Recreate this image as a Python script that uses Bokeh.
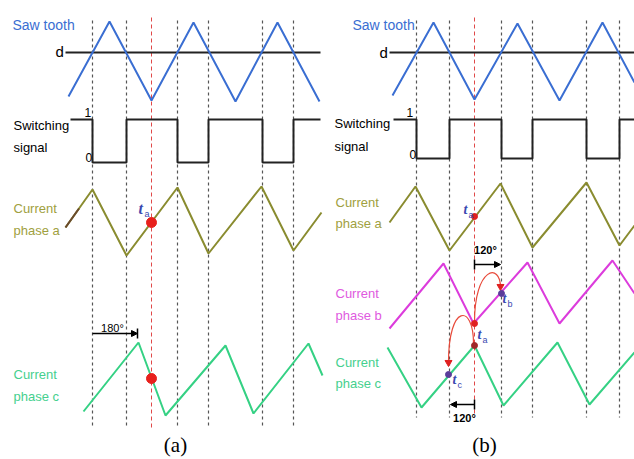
import math
from bokeh.plotting import figure
from bokeh.models import Range1d, Arrow, NormalHead
from bokeh.core.properties import value
from bokeh.embed import file_html
from bokeh.resources import INLINE

# ---------------- data (time axis in px-like units, levels in px-like units) -------------
# Panel (a)
saw_a_x = [68, 109, 151, 193, 235, 277, 319]
saw_a_y = [96, 21, 100, 22, 101, 22, 101]
d_a_x = [65, 320]
d_level = 52
sw_a_edges = [92, 126, 177, 208, 262, 293]
sw_a_span = [70, 320]
sw_a_levels = [119, 162]          # level "1", level "0"
ia_a_x = [65, 92, 126, 177, 208, 261, 293, 321]
ia_a_y = [227, 189, 255, 187, 253, 186, 250, 212]
ic_a_x = [83, 138, 165, 225, 253, 308, 322]
ic_a_y = [411, 342, 415, 345, 413, 343, 375]
vlines_a = [92, 126, 177, 208, 262, 293]
red_a = 151
vspan_a = [20, 428]
dots_a_x = [151, 151]
dots_a_y = [222, 378]

# Panel (b)
saw_b_x = [392, 433, 474, 517, 559, 602, 634]
saw_b_y = [95, 22, 99, 23, 100, 22, 82]
d_b_x = [389, 634]
sw_b_edges = [416, 449, 501, 532, 586, 619]
sw_b_span = [393, 634]
sw_b_levels = [119, 158]
ia_b_x = [389, 415, 449, 500, 532, 586, 619, 634]
ia_b_y = [222, 186, 250, 183, 247, 182, 245, 225]
ib_b_x = [389, 443, 473, 527, 559, 612, 634]
ib_b_y = [328, 263, 323, 262, 323, 260, 293]
ic_b_x = [387, 421, 474, 503, 557, 589, 634]
ic_b_y = [347, 407, 345, 405, 342, 404, 352]
vlines_b = [416, 449, 501, 532, 586, 619]
red_b = 474
vspan_b = [20, 417]
dots_b_x = [474, 474, 474, 501, 448]
dots_b_y = [216, 323, 345, 293, 374]
dots_b_c = ["#e02020", "#e02020", "#a02828", "#5a3c9a", "#5a3c9a"]

# phase-shift annotations
deg_labels = ["180°", "120°", "120°"]

# ---------------- styles -------------
BLUE = "#3a6ed2"
OLIVE = "#8a8c30"
OLIVE_T = "#a0a040"
GREEN = "#35d184"
GREEN_T = "#45d08e"
MAG = "#dc3cdc"
MAG_T = "#e05ae0"
SANS = "'Liberation Sans', Arial, sans-serif"
SERIF = "'Liberation Serif', 'DejaVu Serif', serif"

p = figure(width=634, height=459, x_range=Range1d(0, 634), y_range=Range1d(459, 0),
           output_backend="svg", toolbar_location=None, min_border=0)
p.axis.visible = False
p.grid.visible = False
p.outline_line_color = None
p.background_fill_color = "white"
p.border_fill_color = "white"


def label(x, y, txt, color="black", size="13px", font=SANS, style="normal", align="left"):
    p.text(x=[x], y=[y], text=[txt], text_color=color, text_font_size=size,
           text_font=value(font), text_font_style=style, text_align=align,
           text_baseline="middle")


def square(span, edges, levels):
    hi, lo = levels
    xs, ys = [span[0]], [hi]
    lvl = hi
    for e in edges:
        nxt = lo if lvl == hi else hi
        xs += [e, e]
        ys += [lvl, nxt]
        lvl = nxt
    xs.append(span[1])
    ys.append(lvl)
    return xs, ys


# vertical dashed guides
for vl, red, span in ((vlines_a, red_a, vspan_a), (vlines_b, red_b, vspan_b)):
    p.segment(x0=vl, y0=[span[0]] * len(vl), x1=vl, y1=[span[1]] * len(vl),
              line_color="#555555", line_width=1.2, line_dash="3 3")
    p.segment(x0=[red], y0=[span[0] - 3], x1=[red], y1=[span[1]],
              line_color="#e04848", line_width=1.0, line_dash="4 3")

# d lines
for dx in (d_a_x, d_b_x):
    p.line(dx, [d_level, d_level], line_color="#222222", line_width=2.2)

# saw tooth
p.line(saw_a_x, saw_a_y, line_color=BLUE, line_width=2)
p.line(saw_b_x, saw_b_y, line_color=BLUE, line_width=2)

# switching signals
for span, edges, lv in ((sw_a_span, sw_a_edges, sw_a_levels), (sw_b_span, sw_b_edges, sw_b_levels)):
    xs, ys = square(span, edges, lv)
    p.line(xs, ys, line_color="#222222", line_width=2)

# currents
p.line(ia_a_x, ia_a_y, line_color=OLIVE, line_width=2)
mx = (ia_a_x[0] + ia_a_x[1]) / 2
my = (ia_a_y[0] + ia_a_y[1]) / 2
p.line([ia_a_x[0], mx], [ia_a_y[0], my], line_color="#6a4a2c", line_width=2)
p.line(ic_a_x, ic_a_y, line_color=GREEN, line_width=2)
p.line(ia_b_x, ia_b_y, line_color=OLIVE, line_width=2)
p.line(ib_b_x, ib_b_y, line_color=MAG, line_width=2)
p.line(ic_b_x, ic_b_y, line_color=GREEN, line_width=2)

# curved arrows (b)
p.bezier(x0=[474, 473], y0=[322, 343], x1=[500, 448], y1=[287, 362],
         cx0=[474, 473], cy0=[266, 303], cx1=[500, 448], cy1=[262, 303],
         line_color="#e84a3a", line_width=1.2)
p.scatter(x=[500, 448], y=[286, 362], marker="inverted_triangle", size=7,
          fill_color="#e02020", line_color="#e02020")

# dots
p.scatter(dots_a_x, dots_a_y, size=10, fill_color="#e8201c", line_color="#e8201c")
p.scatter(dots_b_x, dots_b_y, size=6, fill_color=dots_b_c, line_color=dots_b_c)

# degree arrows
head = dict(size=6, fill_color="black", line_color="black")
p.add_layout(Arrow(end=NormalHead(**head), x_start=92, y_start=333, x_end=137, y_end=333,
                   line_color="black", line_width=1.5))
p.segment(x0=[137, 474, 474], y0=[328, 259, 399], x1=[137, 474, 474], y1=[338, 269, 409],
          line_color="black", line_width=1.5)
p.add_layout(Arrow(end=NormalHead(**head), x_start=474, y_start=264, x_end=500, y_end=264,
                   line_color="black", line_width=1.5))
p.add_layout(Arrow(end=NormalHead(**head), x_start=474, y_start=404, x_end=450, y_end=404,
                   line_color="black", line_width=1.5))
label(112, 327, deg_labels[0], size="11px", align="center")
label(485, 249, deg_labels[1], size="11px", style="bold", align="center")
label(464, 417, deg_labels[2], size="11px", style="bold", align="center")

# t labels
TBLUE = "#3a48b0"
for (tx, ty, sub, big) in ((138, 208, "a", True), (463, 209, "a", False), (477, 334, "a", False),
                           (502, 298, "b", False), (452, 379, "c", False)):
    label(tx, ty, "t", color=TBLUE, size="16px" if big else "14px", font=SERIF, style="bold italic")
    label(tx + (6 if big else 5), ty + 5, sub, color=TBLUE, size="9px", font=SANS)

# panel texts
for bx in (12, 352):
    label(bx, 24, "Saw tooth", color=BLUE, size="14px")
label(55, 51, "d", size="15px")
label(379, 52, "d", size="15px")
label(84, 112, "1", size="12px")
label(85, 157, "0", size="12px")
label(406, 112, "1", size="12px")
label(409, 154, "0", size="12px")
for sx, y1, y2 in ((13, 125, 147), (334, 123, 146)):
    label(sx, y1, "Switching")
    label(sx, y2, "signal")
label(13, 208, "Current", color=OLIVE_T)
label(13, 230, "phase a", color=OLIVE_T)
label(13, 374, "Current", color=GREEN_T)
label(13, 396, "phase c", color=GREEN_T)
label(335, 202, "Current", color=OLIVE_T)
label(335, 223, "phase a", color=OLIVE_T)
label(335, 293, "Current", color=MAG_T)
label(335, 315, "phase b", color=MAG_T)
label(335, 362, "Current", color=GREEN_T)
label(335, 383, "phase c", color=GREEN_T)

label(175, 444, "(a)", size="21px", font=SERIF, align="center")
label(484, 444, "(b)", size="21px", font=SERIF, align="center")

open("out.html", "w").write(file_html(p, INLINE))
